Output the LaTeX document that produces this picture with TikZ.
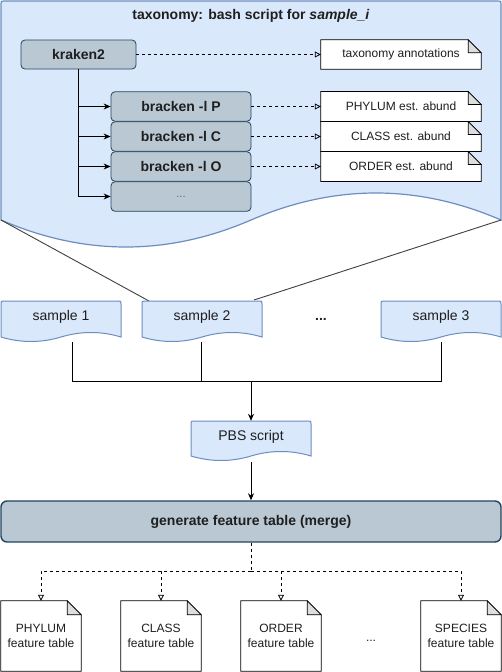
\documentclass[tikz,border=0pt]{standalone}
\usepackage{fontspec}
\setmainfont{Liberation Sans}
\usetikzlibrary{arrows.meta,calc}
\definecolor{bluefill}{HTML}{DAE8FC}
\definecolor{bluestroke}{HTML}{6C8EBF}
\definecolor{grayfill}{HTML}{BAC8D3}
\definecolor{graystroke}{HTML}{23445D}
\definecolor{foldfill}{HTML}{DEDEDE}
\definecolor{textc}{HTML}{1F1F1F}
\definecolor{zoomline}{HTML}{404040}
\pgfdeclarelayer{back}
\pgfdeclarelayer{mid}
\pgfsetlayers{back,mid,main}
% document shape: x0, y0, x1, ymid, amplitude, style
\newcommand\docshape[6]{%
  \filldraw[#6] (#1,#4) -- (#1,{#2+3}) .. controls (#1,#2) .. ({#1+3},#2) -- ({#3-3},#2)
    .. controls (#3,#2) .. (#3,{#2+3}) -- (#3,#4)
    .. controls ({#3-(#3-#1)/6},{#4-4*#5/3}) and ({(#1+#3)/2+(#3-#1)/6},{#4-4*#5/3}) .. ({(#1+#3)/2},#4)
    .. controls ({(#1+#3)/2-(#3-#1)/6},{#4+4*#5/3}) and ({#1+(#3-#1)/6},{#4+4*#5/3}) .. (#1,#4) -- cycle;}
% note shape around a named node: name, fold
\newcommand\noteshape[2]{%
  \filldraw[notestyle] (#1.south west) -- (#1.north west) -- ([xshift=-#2pt]#1.north east)
    -- ([yshift=-#2pt]#1.north east) -- (#1.south east) -- cycle;
  \filldraw[notestyle, fill=foldfill] ([xshift=-#2pt]#1.north east) -- ([xshift=-#2pt,yshift=-#2pt]#1.north east)
    -- ([yshift=-#2pt]#1.north east) -- cycle;}
\begin{document}
\begin{tikzpicture}[x=1pt,y=-1pt,
  txt/.style={inner sep=0pt, text=textc, align=center, font=\fontsize{14}{16}\selectfont},
  boldtxt/.style={txt, font=\fontsize{14}{16}\selectfont\bfseries},
  smalltxt/.style={txt, font=\fontsize{12}{15}\selectfont},
  graybox/.style={boldtxt, draw=graystroke, fill=grayfill, rounded corners=4pt, line width=0.8pt},
  notestyle/.style={draw=black, fill=white, line width=0.8pt},
  blueshape/.style={draw=bluestroke, fill=bluefill, line width=1.2pt},
  bluesmall/.style={draw=bluestroke, fill=bluefill, line width=1pt},
  solidarr/.style={draw=black, line width=0.9pt, -{Stealth[length=7pt,width=6pt]}},
  plainline/.style={draw=black, line width=0.9pt},
  dasharr/.style={draw=black, line width=0.8pt, dash pattern=on 3pt off 3pt, -{Triangle[open,length=6pt,width=6pt]}},
  dashline/.style={draw=black, line width=0.8pt, dash pattern=on 3pt off 3pt}
]
\useasboundingbox (0,0) rectangle (502,672);

% ---------- top: bash script ----------
\node[boldtxt] (title) at (251,16) {taxonomy: bash script for \textit{sample\_i}};
\node[graybox, minimum width=115pt, minimum height=29pt] (kraken) at (78.5,54.5) {kraken2};
\node[graybox, minimum width=140pt, minimum height=29.5pt] (bP) at (181,106.5) {bracken -l P};
\node[graybox, minimum width=140pt, minimum height=29.5pt] (bC) at (181,136.5) {bracken -l C};
\node[graybox, minimum width=140pt, minimum height=29.5pt] (bO) at (181,166.5) {bracken -l O};
\node[graybox, minimum width=140pt, minimum height=29.5pt, font=\fontsize{11}{13}\selectfont, text=gray!80!black] (bD) at (181,196.5) {...};

\node[smalltxt, minimum width=160pt, minimum height=29pt] (ta) at (401,54.5) {taxonomy annotations};
\node[smalltxt, minimum width=160pt, minimum height=29.5pt] (nP) at (401,106.5) {PHYLUM est. abund};
\node[smalltxt, minimum width=160pt, minimum height=29.5pt] (nC) at (401,136.5) {CLASS est. abund};
\node[smalltxt, minimum width=160pt, minimum height=29.5pt] (nO) at (401,166.5) {ORDER est. abund};

% ---------- samples ----------
\node[txt, minimum width=120pt, minimum height=32pt] (s1) at (61,317) {sample 1};
\node[txt, minimum width=120pt, minimum height=32pt] (s2) at (202,317) {sample 2};
\node[boldtxt] (sdots) at (321,319) {...};
\node[txt, minimum width=120pt, minimum height=32pt] (s3) at (441,317) {sample 3};
\node[txt, minimum width=120pt, minimum height=32pt] (pbs) at (251,437) {PBS script};

\node[graybox, minimum width=500pt, minimum height=41pt, rounded corners=6pt, line width=1.4pt] (gen) at (251,521.5) {generate feature table (merge)};

% ---------- feature tables ----------
\node[smalltxt, minimum width=80pt, minimum height=70pt] (f1) at (41,636) {PHYLUM\\feature table};
\node[smalltxt, minimum width=80pt, minimum height=70pt] (f2) at (161,636) {CLASS\\feature table};
\node[smalltxt, minimum width=80pt, minimum height=70pt] (f3) at (281,636) {ORDER\\feature table};
\node[boldtxt, font=\fontsize{12}{14}\selectfont] (fdots) at (371,641) {...};
\node[smalltxt, minimum width=80pt, minimum height=70pt] (f4) at (461,636) {SPECIES\\feature table};

% ---------- shapes behind ----------
\begin{pgfonlayer}{back}
  \fill[white] (0,0) rectangle (502,672);
  \docshape{1}{1}{501}{220}{27}{blueshape}
  \coordinate (bigL) at (1,220);
  \coordinate (bigR) at (501,220);
  \coordinate (s2L) at (149,301);
  \coordinate (s2R) at (254,300);
  \draw[zoomline, line width=0.9pt] (bigL) -- (s2L);
  \draw[zoomline, line width=0.9pt] (bigR) -- (s2R);
\end{pgfonlayer}
\begin{pgfonlayer}{mid}
  \noteshape{ta}{13}
  \noteshape{nP}{13}
  \noteshape{nC}{13}
  \noteshape{nO}{13}
  \noteshape{f1}{14}
  \noteshape{f2}{14}
  \noteshape{f3}{14}
  \noteshape{f4}{14}
  \docshape{1}{301}{121}{337}{4.5}{bluesmall}
  \docshape{142}{301}{262}{337}{4.5}{bluesmall}
  \docshape{381}{301}{501}{337}{4.5}{bluesmall}
  \docshape{191}{421}{311}{456}{4.5}{bluesmall}
\end{pgfonlayer}

% ---------- connectors ----------
\draw[solidarr] (kraken.south) |- (bP.west);
\draw[solidarr] (kraken.south) |- (bC.west);
\draw[solidarr] (kraken.south) |- (bO.west);
\draw[solidarr] (kraken.south) |- (bD.west);
\draw[dasharr] (kraken.east) -- (ta.west);
\draw[dasharr] (bP.east) -- (nP.west);
\draw[dasharr] (bC.east) -- (nC.west);
\draw[dasharr] (bO.east) -- (nO.west);

\coordinate (s1b) at (72,342);
\coordinate (s2b) at (201,342);
\coordinate (s3b) at (441.5,342);
\coordinate (join) at (251,381);
\draw[plainline] (s1b) |- (join);
\draw[plainline] (s3b) |- (join);
\draw[plainline] (s2b) -- (s2b |- join);
\draw[solidarr] (join) -- (pbs.north);
\coordinate (pbsb) at (251,462);
\draw[solidarr] (pbsb) -- (gen.north);

\coordinate (fjoin) at (251,571);
\draw[dashline] (gen.south) -- (fjoin);
\draw[dasharr] (fjoin) -| (f1.north);
\draw[dasharr] (fjoin) -| (f2.north);
\draw[dasharr] (fjoin) -| (f3.north);
\draw[dasharr] (fjoin) -| (f4.north);
\end{tikzpicture}
\end{document}
